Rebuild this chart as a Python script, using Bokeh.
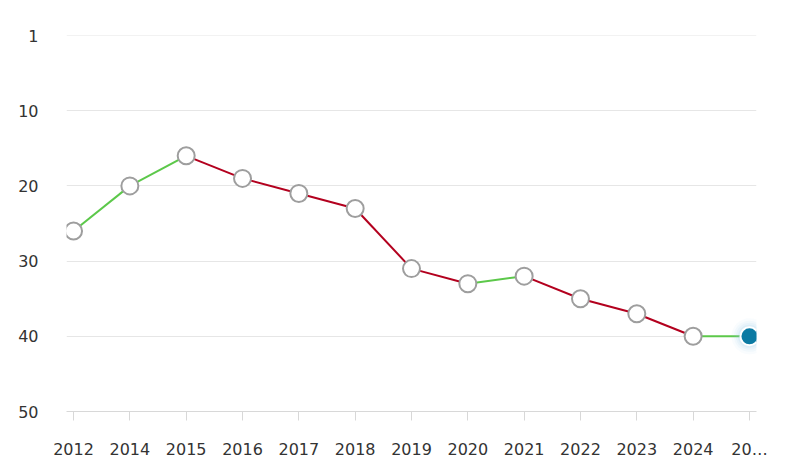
from bokeh.plotting import figure
from bokeh.models import ColumnDataSource, FixedTicker, Range1d, Span
from bokeh.embed import file_html
from bokeh.resources import INLINE

# Data
years = ["2012", "2014", "2015", "2016", "2017", "2018", "2019", "2020",
         "2021", "2022", "2023", "2024", "20\u2026"]
ranks = [26, 20, 16, 19, 21, 23, 31, 33, 32, 35, 37, 40, 40]
y_tick_values = [0, 10, 20, 30, 40, 50]
y_tick_labels = ["1", "10", "20", "30", "40", "50"]

GREEN = "#5cc84a"
RED = "#b3001e"
FONT = "DejaVu Sans"

xs = list(range(len(years)))

p = figure(width=776, height=461, output_backend="svg", toolbar_location=None,
           x_range=Range1d(-0.125, len(years) - 1 + 0.125),
           y_range=Range1d(50, 0),
           min_border_left=66, min_border_right=20, min_border_top=35,
           min_border_bottom=46)
p.outline_line_color = None
p.background_fill_color = "white"
p.border_fill_color = "white"

# top grid line (rank 1)
p.add_layout(Span(location=0, dimension="width", line_color="#e6e6e6",
                  line_width=1))

# segments colored by trend
seg = dict(x0=[], y0=[], x1=[], y1=[], c=[])
for i in range(len(ranks) - 1):
    seg["x0"].append(xs[i]); seg["y0"].append(ranks[i])
    seg["x1"].append(xs[i + 1]); seg["y1"].append(ranks[i + 1])
    seg["c"].append(GREEN if ranks[i + 1] <= ranks[i] else RED)
p.segment("x0", "y0", "x1", "y1", source=ColumnDataSource(seg), line_color="c",
          line_width=2)

# markers
src = ColumnDataSource(dict(x=xs[:-1], y=ranks[:-1]))
p.scatter("x", "y", source=src, size=17, fill_color="white",
          line_color="#9e9e9e", line_width=2)

# last highlighted point with glow
last = ColumnDataSource(dict(x=[xs[-1]], y=[ranks[-1]]))
for s, a in [(36, 0.05), (31, 0.07), (27, 0.09), (23, 0.12)]:
    p.scatter("x", "y", source=last, size=s, fill_color="#8ec8e6",
              fill_alpha=a, line_color=None)
p.scatter("x", "y", source=last, size=18, fill_color="#0b7aa3",
          line_color="white", line_width=2)

# axes
p.xaxis.ticker = FixedTicker(ticks=xs)
p.xaxis.major_label_overrides = {i: y for i, y in enumerate(years)}
p.xaxis.axis_line_color = "#d8d8d8"
p.xaxis.axis_line_width = 1
p.xaxis.major_tick_line_color = "#d8d8d8"
p.xaxis.major_tick_out = 9
p.xaxis.major_tick_in = 0
p.xaxis.minor_tick_line_color = None
p.xaxis.major_label_standoff = 19
p.xaxis.major_label_text_font = FONT
p.xaxis.major_label_text_font_size = "16px"
p.xaxis.major_label_text_color = "#333333"

p.yaxis.ticker = FixedTicker(ticks=y_tick_values)
p.yaxis.major_label_overrides = {v: l for v, l in zip(y_tick_values, y_tick_labels)}
p.yaxis.axis_line_color = None
p.yaxis.major_tick_line_color = None
p.yaxis.minor_tick_line_color = None
p.yaxis.major_tick_out = 0
p.yaxis.major_label_standoff = 28
p.yaxis.major_label_text_font = FONT
p.yaxis.major_label_text_font_size = "16px"
p.yaxis.major_label_text_color = "#333333"

p.xgrid.grid_line_color = None
p.ygrid.ticker = FixedTicker(ticks=y_tick_values)
p.ygrid.grid_line_color = "#e6e6e6"
p.ygrid.grid_line_width = 1

open("out.html", "w").write(file_html(p, INLINE))
